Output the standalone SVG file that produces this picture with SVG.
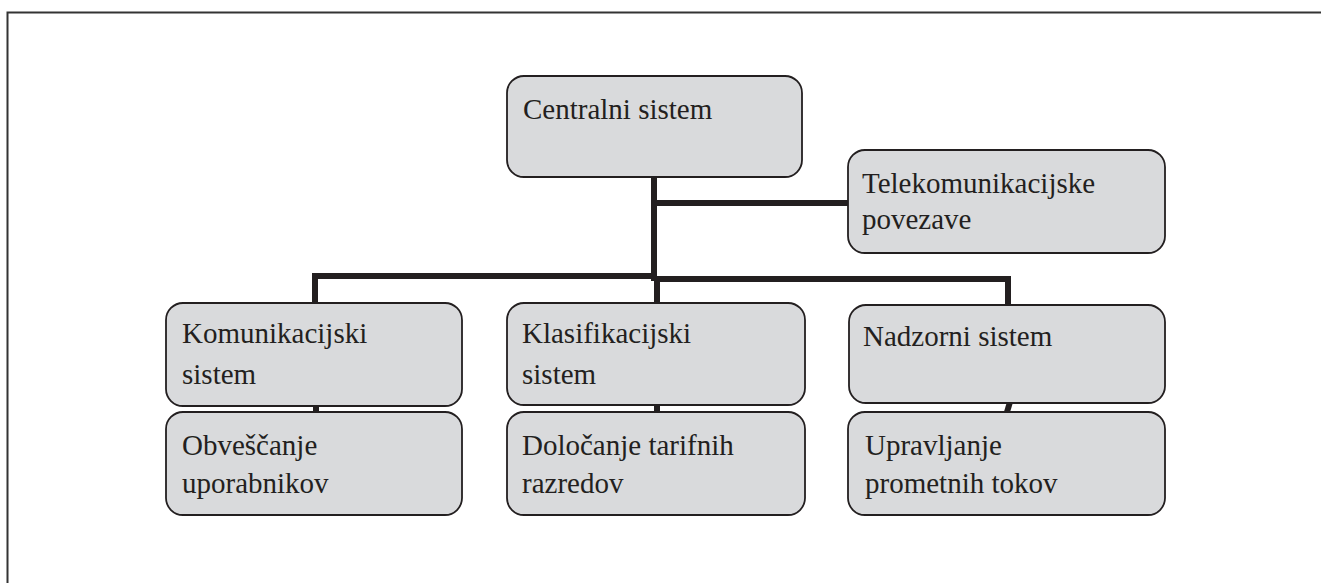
<svg xmlns="http://www.w3.org/2000/svg" width="1321" height="583" viewBox="0 0 1321 583">
<style>
.box{fill:#d9dadc;stroke:#231f20;stroke-width:1.8}
.lbl{font-family:"Liberation Serif","Times New Roman",serif;font-size:29px;fill:#231f20}
.con{stroke:#231f20;stroke-width:6;fill:none;stroke-linecap:butt;stroke-linejoin:miter}
</style>
<rect width="1321" height="583" fill="#ffffff"/>
<path d="M7.5 583 V12.5 H1321" fill="none" stroke="#333333" stroke-width="2"/>
<g id="connectors">
<path class="con" d="M654 177 V281"/>
<path class="con" d="M654 203 H848"/>
<path class="con" d="M315 303 V276 H655"/>
<path class="con" d="M654 279 H1008 V305"/>
<path class="con" d="M657 279 V303"/>
<path class="con" d="M316 405 V412"/>
<path class="con" d="M657 405 V412"/>
<path class="con" d="M1010 402 L1007 412"/>
</g>
<g id="n-central">
<rect class="box" x="507" y="76" width="295" height="101" rx="17"/>
<text class="lbl" x="523" y="119">Centralni sistem</text>
</g>
<g id="n-telekom">
<rect class="box" x="848" y="150" width="317" height="103" rx="17"/>
<text class="lbl" x="862" y="193">Telekomunikacijske</text>
<text class="lbl" x="862" y="229">povezave</text>
</g>
<g id="n-komunikacijski">
<rect class="box" x="166" y="303" width="296" height="103" rx="17"/>
<text class="lbl" x="182" y="343">Komunikacijski</text>
<text class="lbl" x="182" y="384">sistem</text>
</g>
<g id="n-klasifikacijski">
<rect class="box" x="507" y="303" width="298" height="102" rx="17"/>
<text class="lbl" x="522" y="343">Klasifikacijski</text>
<text class="lbl" x="522" y="384">sistem</text>
</g>
<g id="n-nadzorni">
<rect class="box" x="849" y="305" width="316" height="98" rx="17"/>
<text class="lbl" x="863" y="346">Nadzorni sistem</text>
</g>
<g id="n-obvescanje">
<rect class="box" x="166" y="412" width="296" height="103" rx="17"/>
<text class="lbl" x="182" y="455">Obveščanje</text>
<text class="lbl" x="182" y="493">uporabnikov</text>
</g>
<g id="n-dolocanje">
<rect class="box" x="507" y="412" width="298" height="103" rx="17"/>
<text class="lbl" x="522" y="455">Določanje tarifnih</text>
<text class="lbl" x="522" y="493">razredov</text>
</g>
<g id="n-upravljanje">
<rect class="box" x="848" y="412" width="317" height="103" rx="17"/>
<text class="lbl" x="865" y="455">Upravljanje</text>
<text class="lbl" x="865" y="493">prometnih tokov</text>
</g>
</svg>
